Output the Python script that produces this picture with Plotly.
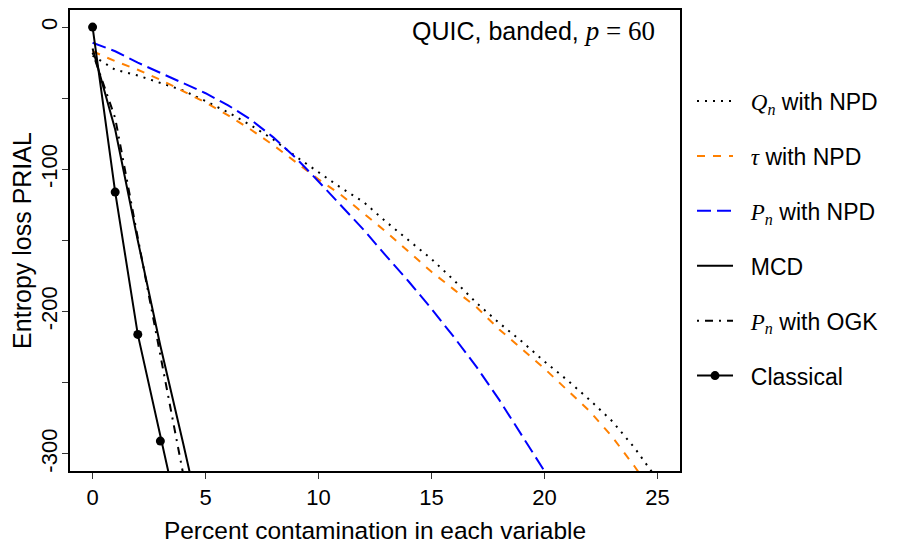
import plotly.graph_objects as go

# ---- data ----
x_npd = list(range(0, 26))
qn_npd = [-20, -30, -34, -39, -44.5, -52, -60, -69, -79, -91, -102, -113, -123, -137, -150,
          -163, -178, -194, -208, -221, -235, -248, -262, -277, -296, -318]
tau_npd = [-17, -24, -30, -37, -45, -53, -62, -72, -83, -95, -107, -118, -131, -144, -158,
           -172, -184.5, -197, -212.5, -226, -240, -255, -270, -288, -309, -332]
x_pn = list(range(0, 22))
pn_npd = [-11, -17, -25, -32, -39, -46.5, -55, -65, -77.5, -92, -108.5, -125.8, -142.5, -161, -179,
          -198, -218, -239, -262, -287, -312, -340]
x_rob = [0, 1, 2, 3, 4, 5]
mcd = [-15, -72, -150, -224, -292, -362]
pn_ogk = [-18, -64, -148, -230, -313, -396]
classical = [0, -116, -216, -291, -360, -430]

x_ticks = [0, 5, 10, 15, 20, 25]
y_ticks = [0, -100, -200, -300]
y_minor_step = 50

SANS = "Liberation Sans"
SERIF = "Liberation Serif"


def m(s, size=None):
    st = "font-family:'%s'" % SERIF
    if size:
        st += ";font-size:%dpx" % size
    return "<span style=\"%s\">%s</span>" % (st, s)


PAD = "&nbsp;&nbsp;"
names = [
    PAD + m("<i>Q</i><sub><i>n</i></sub>") + " with NPD",
    PAD + m("<i>τ</i>") + " with NPD",
    PAD + m("<i>P</i><sub><i>n</i></sub>") + " with NPD",
    PAD + "MCD",
    PAD + m("<i>P</i><sub><i>n</i></sub>") + " with OGK",
    PAD + "Classical",
]

fig = go.Figure()
fig.add_trace(go.Scatter(x=x_npd, y=qn_npd, mode="lines", name=names[0], legendgroup="a",
                         line=dict(color="black", width=2, dash="2px,6px")))
fig.add_trace(go.Scatter(x=x_npd, y=tau_npd, mode="lines", name=names[1], legendgroup="b",
                         line=dict(color="#FF8000", width=2, dash="8px,8px")))
fig.add_trace(go.Scatter(x=x_pn, y=pn_npd, mode="lines", name=names[2], legendgroup="c",
                         line=dict(color="#0000FF", width=2, dash="14px,6px")))
fig.add_trace(go.Scatter(x=x_rob, y=mcd, mode="lines", name=names[3], legendgroup="d",
                         line=dict(color="black", width=2)))
fig.add_trace(go.Scatter(x=x_rob, y=pn_ogk, mode="lines", name=names[4], legendgroup="e",
                         line=dict(color="black", width=2, dash="2px,6px,8px,6px")))
fig.add_trace(go.Scatter(x=x_rob, y=classical, mode="lines+markers", name=names[5], legendgroup="f",
                         line=dict(color="black", width=2),
                         marker=dict(color="black", size=9, symbol="circle")))

fig.add_annotation(xref="paper", yref="paper", x=0.9625, y=0.955, xanchor="right", yanchor="middle",
                   text="QUIC, banded, " + m("<i>p</i>&nbsp;=&nbsp;60", 27), showarrow=False,
                   font=dict(family=SANS, size=25, color="black"))

axis_common = dict(showline=True, linecolor="black", linewidth=1.8, mirror=True,
                   ticks="outside", ticklen=6, tickwidth=1.2, tickcolor="#333",
                   showgrid=False, zeroline=False,
                   tickfont=dict(family=SANS, size=22, color="black"))

fig.update_xaxes(range=[-1, 26], tickvals=x_ticks, ticktext=[str(v) for v in x_ticks],
                 title=dict(text="Percent contamination in each variable",
                            font=dict(family=SANS, size=24.5, color="black"), standoff=13),
                 **axis_common)
fig.update_yaxes(range=[-312, 12], tickvals=y_ticks, ticktext=[str(v) for v in y_ticks],
                 tickangle=-90, ticklabelstandoff=-4,
                 minor=dict(dtick=y_minor_step, ticks="outside", ticklen=6, tickwidth=1.2,
                            tickcolor="#333", showgrid=False),
                 title=dict(text="Entropy loss PRIAL",
                            font=dict(family=SANS, size=25, color="black"), standoff=12),
                 **axis_common)

# the page body adds an 8px offset, so the figure is 8px smaller than the window
fig.update_layout(
    width=898, height=536,
    margin=dict(l=62, r=226, t=0, b=73),
    paper_bgcolor="white", plot_bgcolor="white",
    font=dict(family=SANS, color="black"),
    legend=dict(x=1.0197, xanchor="left", y=0.849, yanchor="top",
                font=dict(family=SANS, size=23, color="black"),
                itemwidth=36, tracegroupgap=22, bgcolor="rgba(0,0,0,0)"),
)

fig.write_html("out.html")
